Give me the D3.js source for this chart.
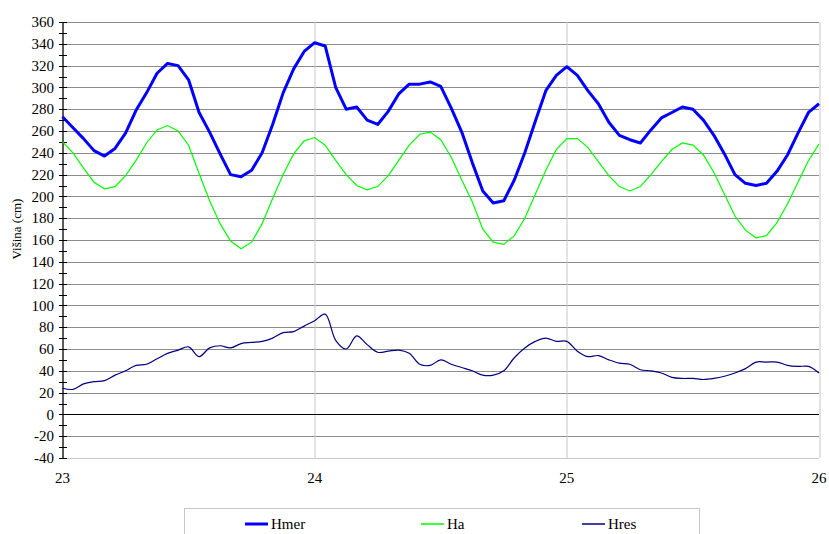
<!DOCTYPE html>
<html>
<head>
<meta charset="utf-8">
<script src="https://cdn.jsdelivr.net/npm/d3@7"></script>
<style>
  body { margin: 0; background: #fff; }
</style>
</head>
<body>
<div id="chart"></div>
<script>
// hourly readings, day 23 00h .. day 26 00h
var startDay = 23;
var hmer = [273, 263, 253, 242, 237, 244, 258, 279, 295, 313, 322, 320, 307, 277, 259, 239, 220, 218, 224, 240,
            266, 295, 317, 333, 341, 338, 300, 280, 282, 270, 266, 278, 294, 303, 303, 305, 301, 281, 259, 231,
            205, 194, 196, 215, 240, 269, 297, 311, 319, 311, 297, 285, 268, 256, 252, 249, 261, 272, 277, 282,
            280, 270, 256, 239, 220, 212, 210, 212, 223, 238, 258, 277, 285];
var ha = [250, 240, 226, 213, 207, 209, 219, 233, 249, 261, 265, 260, 247, 221, 196, 175, 159, 152, 158, 175,
          198, 220, 239, 251, 254, 247, 233, 220, 210, 206, 209, 219, 233, 247, 257, 259, 252, 236, 215, 195,
          170, 158, 156, 164, 180, 202, 224, 243, 253, 253, 245, 232, 219, 209, 205, 209, 220, 232, 243, 249,
          247, 238, 222, 202, 182, 169, 162, 164, 176, 193, 213, 233, 248];
var hres = [24, 23, 28, 30, 31, 36, 40, 45, 46, 51, 56, 59, 62, 53, 61, 63, 61, 65, 66, 67,
            70, 75, 76, 81, 86, 92, 68, 60, 72, 64, 57, 58, 59, 56, 46, 45, 50, 46, 43, 40,
            36, 36, 40, 52, 61, 67, 70, 67, 67, 58, 53, 54, 50, 47, 46, 41, 40, 38, 34, 33,
            33, 32, 33, 35, 38, 42, 48, 48, 48, 45, 44, 44, 38];
var seriesNames = ["Hmer", "Ha", "Hres"];
var xTicks = [23, 24, 25, 26];

var FONT = "'Liberation Serif', 'DejaVu Serif', 'Times New Roman', serif";
var W = 829, H = 534;
var margin = { top: 22, left: 62.5 };
var width = 819 - margin.left, height = 458 - margin.top;

var svg = d3.select("#chart").append("svg")
  .attr("width", W).attr("height", H)
  .attr("font-family", FONT);
var g = svg.append("g").attr("transform", `translate(${margin.left},${margin.top})`);

var x = d3.scaleLinear().domain([23, 26]).range([0, width]);
var y = d3.scaleLinear().domain([-40, 360]).range([height, 0]);

// horizontal grid
g.append("g").selectAll("line")
  .data(d3.range(-20, 361, 20).filter(v => v !== 0))
  .enter().append("line")
  .attr("x1", 0).attr("x2", width)
  .attr("y1", d => Math.round(y(d)) + 0.5).attr("y2", d => Math.round(y(d)) + 0.5)
  .attr("stroke", "#8c8c8c").attr("stroke-width", 1);

// vertical grid
g.append("g").selectAll("line")
  .data([24, 25, 26])
  .enter().append("line")
  .attr("x1", d => Math.round(x(d)) + 0.5).attr("x2", d => Math.round(x(d)) + 0.5)
  .attr("y1", 0).attr("y2", height)
  .attr("stroke", "#c8c8c8").attr("stroke-width", 1);

// bottom border
g.append("line")
  .attr("x1", 0).attr("x2", width)
  .attr("y1", Math.round(y(-40)) + 0.5).attr("y2", Math.round(y(-40)) + 0.5)
  .attr("stroke", "#c8c8c8");

// zero line
g.append("line")
  .attr("x1", 0).attr("x2", width)
  .attr("y1", Math.round(y(0)) + 0.5).attr("y2", Math.round(y(0)) + 0.5)
  .attr("stroke", "#000").attr("stroke-width", 1.2);

// y axis
var yAxis = g.append("g").attr("transform", "translate(0.5,0)");
yAxis.append("line").attr("y1", 0).attr("y2", height).attr("stroke", "#000").attr("stroke-width", 1.3);
yAxis.selectAll("line.minor")
  .data(d3.range(-40, 361, 10))
  .enter().append("line")
  .attr("class", "minor")
  .attr("x1", -4).attr("x2", 4)
  .attr("y1", d => Math.round(y(d)) + 0.5).attr("y2", d => Math.round(y(d)) + 0.5)
  .attr("stroke", "#000");
yAxis.selectAll("text")
  .data(d3.range(-40, 361, 20))
  .enter().append("text")
  .attr("x", -9).attr("y", d => y(d))
  .attr("dy", "0.35em")
  .attr("text-anchor", "end")
  .attr("font-size", "15px")
  .text(d => d);

g.append("text")
  .attr("transform", "rotate(-90)")
  .attr("x", -y(170)).attr("y", -46)
  .attr("dy", "0.35em")
  .attr("text-anchor", "middle")
  .attr("font-size", "13px")
  .text("Višina (cm)");

// x labels
g.selectAll("text.xl")
  .data(xTicks)
  .enter().append("text")
  .attr("class", "xl")
  .attr("x", d => x(d)).attr("y", height + 25)
  .attr("text-anchor", "middle")
  .attr("font-size", "15px")
  .text(d => d);

var hourX = i => x(startDay + i / 24);

var line = d3.line().x((d, i) => hourX(i)).y(d => y(d));
var smooth = d3.line().x((d, i) => hourX(i)).y(d => y(d)).curve(d3.curveCatmullRom.alpha(0.5));

g.append("path").datum(ha)
  .attr("d", line).attr("fill", "none")
  .attr("stroke", "#00ff00").attr("stroke-width", 1.2);
g.append("path").datum(hres)
  .attr("d", smooth).attr("fill", "none")
  .attr("stroke", "#000080").attr("stroke-width", 1.2);
g.append("path").datum(hmer)
  .attr("d", line).attr("fill", "none")
  .attr("stroke", "#0000ff").attr("stroke-width", 3)
  .attr("stroke-linejoin", "round");

// legend
var leg = svg.append("g");
leg.append("rect")
  .attr("x", 184.5).attr("y", 508.5).attr("width", 515).attr("height", 40)
  .attr("fill", "#fff").attr("stroke", "#c8c8c8");
var legendItems = [
  { name: seriesNames[0], color: "#0000ff", w: 3, x: 245 },
  { name: seriesNames[1], color: "#00ff00", w: 1.5, x: 421 },
  { name: seriesNames[2], color: "#000080", w: 1.5, x: 582 }
];
legendItems.forEach(d => {
  leg.append("line")
    .attr("x1", d.x).attr("x2", d.x + 23)
    .attr("y1", 524).attr("y2", 524)
    .attr("stroke", d.color).attr("stroke-width", d.w);
  leg.append("text")
    .attr("x", d.x + 26).attr("y", 524)
    .attr("dy", "0.35em")
    .attr("font-size", "15px")
    .text(d.name);
});
</script>
</body>
</html>
